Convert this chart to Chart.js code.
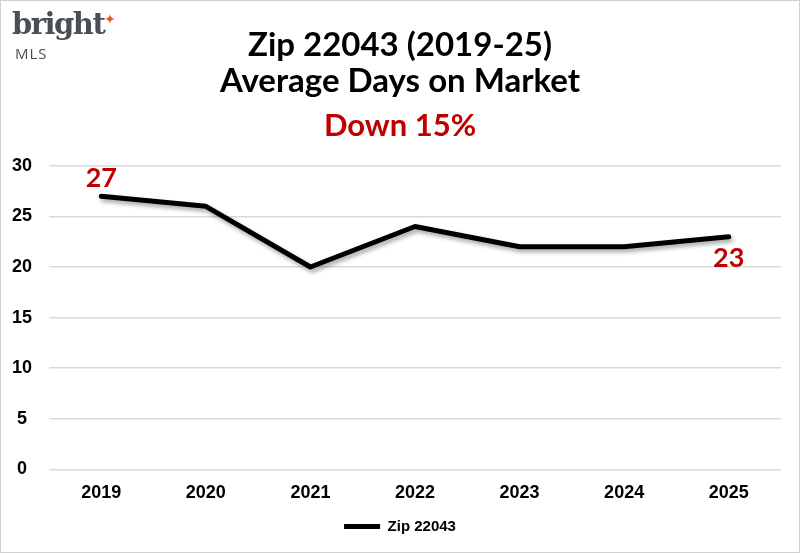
<!DOCTYPE html>
<html>
<head>
<meta charset="utf-8">
<script src="https://cdn.jsdelivr.net/npm/chart.js@4"></script>
<style>
  html, body { margin: 0; padding: 0; background: #fff; }
  #wrap { position: relative; width: 798px; height: 551px; border: 1px solid #d0d0d0; }
  #logo { position: absolute; left: 11px; top: 6px; color: #4a4f57; }
  #logo .b { font-family: "DejaVu Serif", serif; font-weight: bold; font-size: 29px; letter-spacing: -1.5px; line-height: 34px; }
  #logo .s { color: #e8562a; font-size: 14px; position: absolute; left: 92px; top: 4px; }
  #logo .m { font-family: "Open Sans", sans-serif; font-size: 15px; margin-left: 3px; margin-top: 3px; letter-spacing: 1px; line-height: 18px; }
</style>
</head>
<body>
<div id="wrap">
  <canvas id="grafico" width="798" height="551"></canvas>
  <div id="logo"><div class="b">bright</div><span class="s">&#10022;</span><div class="m">MLS</div></div>
</div>
<script>
let anos = ['2019', '2020', '2021', '2022', '2023', '2024', '2025'];
let dias = [27, 26, 20, 24, 22, 22, 23];
let nomeSerie = 'Zip 22043';
let titulo = ['Zip 22043 (2019-25)', 'Average Days on Market'];
let subtitulo = 'Down 15%';

const sombra = {
    id: 'sombra',
    beforeDatasetDraw(chart) {
        const c = chart.ctx;
        c.save();
        c.shadowColor = 'rgba(0,0,0,0.35)';
        c.shadowBlur = 4;
        c.shadowOffsetX = 2;
        c.shadowOffsetY = 3;
    },
    afterDatasetDraw(chart) {
        chart.ctx.restore();
    }
};

const rotulos = {
    id: 'rotulos',
    afterDatasetsDraw(chart) {
        const c = chart.ctx;
        const pts = chart.getDatasetMeta(0).data;
        c.save();
        c.font = 'bold 27px Lato';
        c.fillStyle = '#c00000';
        c.textAlign = 'center';
        let p = pts[0];
        c.textBaseline = 'bottom';
        c.fillText(dias[0], p.x, p.y - 4);
        p = pts[pts.length - 1];
        c.textBaseline = 'top';
        c.fillText(dias[dias.length - 1], p.x, p.y + 8);
        c.restore();
    }
};

const grafico = document.getElementById('grafico').getContext('2d');

let graficoLinha = new Chart(grafico, {
    type: 'line',
    data: {
        labels: anos,
        datasets: [{
            label: nomeSerie,
            data: dias,
            borderColor: '#000',
            backgroundColor: '#000',
            borderWidth: 5,
            pointRadius: 0,
            tension: 0,
            borderCapStyle: 'round',
            borderJoinStyle: 'round'
        }]
    },
    options: {
        responsive: false,
        animation: false,
        layout: { padding: { top: 27, left: 8, right: 8, bottom: 8 } },
        plugins: {
            title: {
                display: true,
                text: titulo,
                color: '#000',
                font: { family: 'Lato', size: 33, weight: 'bold', lineHeight: 1.07 },
                padding: { top: 0, bottom: 9 }
            },
            subtitle: {
                display: true,
                text: subtitulo,
                color: '#c00000',
                font: { family: 'Lato', size: 31, weight: 'bold', lineHeight: 1.2 },
                padding: { top: 0, bottom: 21 }
            },
            legend: {
                position: 'bottom',
                labels: {
                    color: '#000',
                    font: { family: 'Liberation Sans', size: 15, weight: 'bold' },
                    boxWidth: 36,
                    boxHeight: 0,
                    padding: 5,
                    generateLabels(chart) {
                        return [{
                            text: nomeSerie,
                            strokeStyle: '#000',
                            fillStyle: '#000',
                            lineWidth: 5,
                            lineCap: 'round'
                        }];
                    }
                }
            },
            tooltip: { enabled: false }
        },
        scales: {
            x: {
                offset: true,
                afterFit(scale) { scale.height += 5; },
                grid: { display: false },
                border: { display: false },
                ticks: {
                    color: '#000',
                    font: { family: 'Liberation Sans', size: 18, weight: 'bold' },
                    padding: 5
                }
            },
            y: {
                min: 0,
                max: 30,
                afterFit(scale) { scale.width = 40; },
                ticks: {
                    stepSize: 5,
                    color: '#000',
                    font: { family: 'Liberation Sans', size: 18, weight: 'bold' },
                    padding: 17,
                    crossAlign: 'center'
                },
                grid: { color: '#d9d9d9', lineWidth: 1.5, drawTicks: false, tickLength: 0 },
                border: { display: false }
            },
            yDir: {
                position: 'right',
                afterFit(scale) { scale.width = 10; },
                ticks: { display: false },
                grid: { display: false, drawTicks: false, tickLength: 0 },
                border: { display: false }
            }
        }
    },
    plugins: [sombra, rotulos]
});
</script>
</body>
</html>
